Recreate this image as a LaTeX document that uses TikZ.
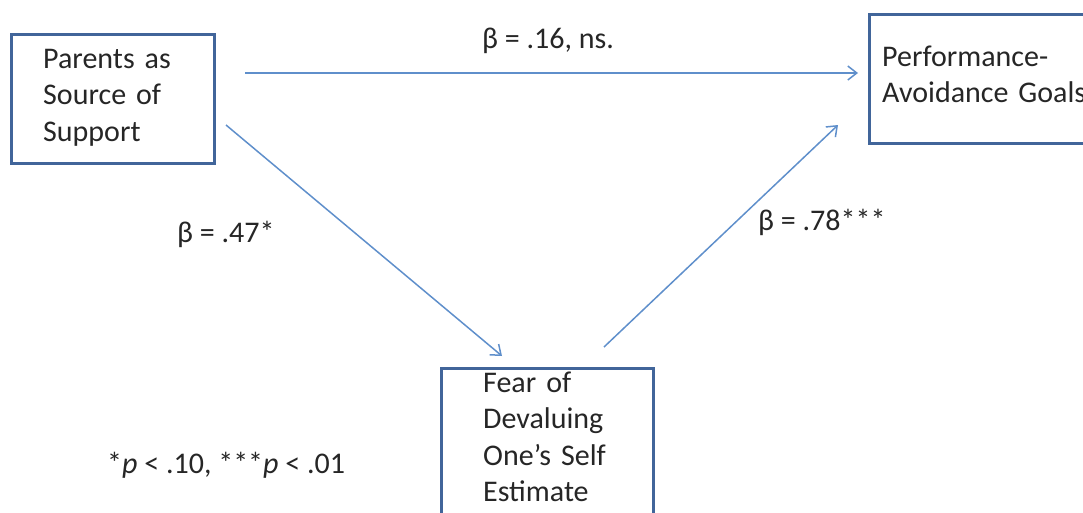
\documentclass[tikz,border=0pt]{standalone}
\usepackage{fontspec}
\setmainfont{Carlito}
\usetikzlibrary{arrows.meta}
\definecolor{boxblue}{HTML}{41659A}
\definecolor{arrowblue}{HTML}{5F8FCB}
\begin{document}
\begin{tikzpicture}[x=1pt,y=-1pt,
  box/.style={draw=boxblue, line width=3pt, inner sep=0pt, rectangle},
  boxtext/.style={anchor=base west, inner sep=0pt, align=left, text width=240pt,
    font=\fontsize{30}{36.5}\selectfont, text=black!85},
  lbl/.style={anchor=base west, inner sep=0pt, font=\fontsize{30}{36}\selectfont, text=black!85},
  conn/.style={draw=arrowblue, line width=1.5pt, -{Straight Barb[length=9pt,width=14pt,line width=1.5pt]}}]
\useasboundingbox (0,0) rectangle (1083,512);
\clip (0,0) rectangle (1083,512);
% boxes
\node[box, minimum width=203pt, minimum height=129pt] (parents) at (113,99) {};
\node[box, minimum width=250pt, minimum height=129pt] (goals) at (994.5,79) {};
\node[box, minimum width=212pt, minimum height=200pt] (fear) at (547.5,468.5) {};
% box texts
\node[boxtext] (t1) at (43,68) {Parents as\\Source of\\Support};
\node[boxtext] (t2) at (882,66) {Performance-\\Avoidance Goals};
\node[boxtext] (t3) at (483,392) {Fear of\\Devaluing\\One’s Self\\Estimate};
% connector endpoints
\coordinate (a1s) at (245,73);
\coordinate (a1e) at (858,73);
\coordinate (a2s) at (226,125);
\coordinate (a2e) at (502,356);
\coordinate (a3s) at (604,347);
\coordinate (a3e) at (838,125);
\draw[conn] (a1s) -- (a1e);
\draw[conn] (a2s) -- (a2e);
\draw[conn] (a3s) -- (a3e);
% labels
\node[lbl] (l1) at (482,48) {β = .16, ns.};
\node[lbl] (l2) at (177,242) {β = .47*};
\node[lbl] (l3) at (758,230) {β = .78***};
\node[lbl] (note) at (107,473) {*\textit{p} < .10, ***\textit{p} < .01};
\end{tikzpicture}
\end{document}
